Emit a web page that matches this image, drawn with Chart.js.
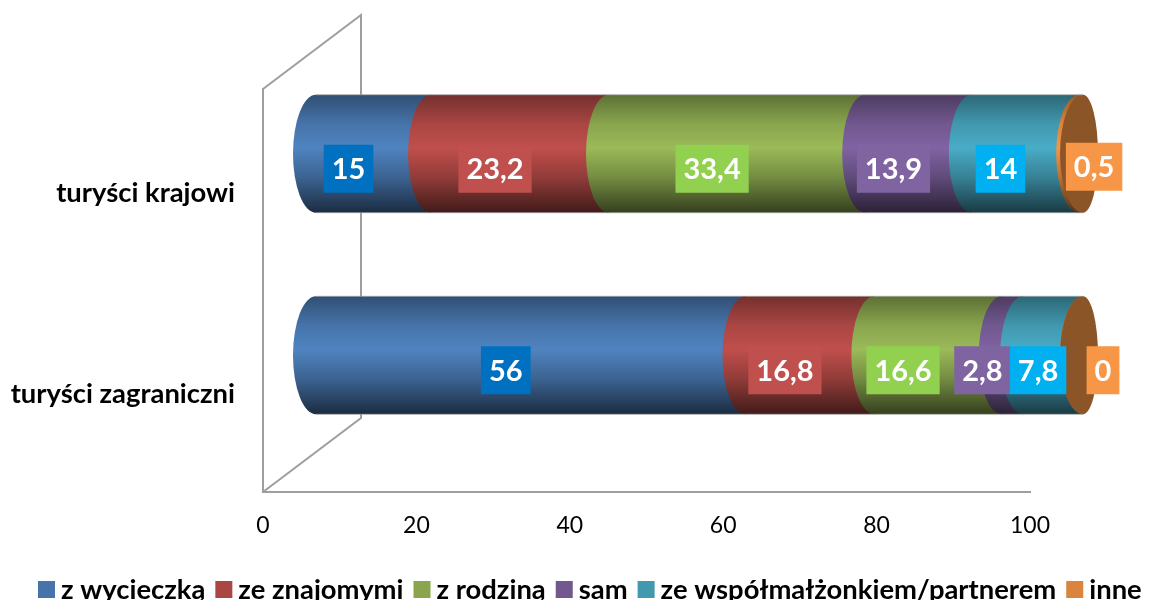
<!DOCTYPE html>
<html lang="pl">
<head>
<meta charset="utf-8">
<title>Turyści</title>
<style>
  html, body { margin: 0; padding: 0; background: #fff; overflow: hidden; }
  #wrap { width: 1151px; height: 600px; position: relative; }
</style>
<script src="https://cdn.jsdelivr.net/npm/chart.js@4/dist/chart.umd.min.js"></script>
</head>
<body>
<div id="wrap"><canvas id="chart"></canvas></div>
<script>
// Data
const categories = ['turyści krajowi', 'turyści zagraniczni'];
const seriesNames = ['z wycieczką', 'ze znajomymi', 'z rodziną', 'sam', 'ze współmałżonkiem/partnerem', 'inne'];
const zWycieczka = [15, 56];
const zeZnajomymi = [23.2, 16.8];
const zRodzina = [33.4, 16.6];
const sam = [13.9, 2.8];
const zeWspolmalzonkiem = [14, 7.8];
const inne = [0.5, 0];
const xTicks = [0, 20, 40, 60, 80, 100];

// Colours
const seriesColors = ['#4674AA', '#AA4643', '#89A54E', '#71588F', '#4198AF', '#DB843D'];
const labelColors = ['#0070C0', '#C0504D', '#92D050', '#8064A2', '#00B0F0', '#F79646'];
const capColor = '#8B5527';
const wallColor = '#9E9E9E';
const fontName = 'Lato, "Open Sans", sans-serif';

// 3D look: how far the bars sit behind the front plane
const barShift = { x: 53, y: -36 };
const wallDepth = { x: 98, y: -74 };
const arcLeft = 23;
const arcRight = 15;

// Hand-moved data labels, px from the default spot [category][series]
const labelNudge = [
  [0, 0, 0, 0, 0, [38, -2]],
  [0, 0, [-10, 0], [-5, 0], [10, 0], [45, 0]]
];

function shade(hex, k) {
  const n = parseInt(hex.slice(1), 16);
  const c = [n >> 16, (n >> 8) & 255, n & 255].map(v => Math.min(255, Math.round(v * k)));
  return `rgb(${c[0]},${c[1]},${c[2]})`;
}

function barGradient(ctx, top, bottom, color) {
  const g = ctx.createLinearGradient(0, top, 0, bottom);
  g.addColorStop(0, shade(color, 0.68));
  g.addColorStop(0.25, shade(color, 1.0));
  g.addColorStop(0.45, shade(color, 1.13));
  g.addColorStop(0.7, shade(color, 0.85));
  g.addColorStop(1, shade(color, 0.38));
  return g;
}

const cylinderPlugin = {
  id: 'cylinder',
  beforeDatasetsDraw(chart) {
    const { ctx, chartArea: area } = chart;

    // back wall
    ctx.save();
    ctx.strokeStyle = wallColor;
    ctx.lineWidth = 2;
    ctx.beginPath();
    ctx.moveTo(area.left, area.top);
    ctx.lineTo(area.left + wallDepth.x, area.top + wallDepth.y);
    ctx.lineTo(area.left + wallDepth.x, area.bottom + wallDepth.y);
    ctx.lineTo(area.left, area.bottom);
    ctx.stroke();
    ctx.restore();

    // segments, first series first so each next one overlaps it
    chart.data.datasets.forEach((ds, i) => {
      chart.getDatasetMeta(i).data.forEach(el => {
        const x0 = el.base + barShift.x;
        const x1 = el.x + barShift.x;
        const yc = el.y + barShift.y;
        const h = el.height / 2;
        ctx.fillStyle = barGradient(ctx, yc - h, yc + h, seriesColors[i]);
        ctx.beginPath();
        ctx.moveTo(x0, yc - h);
        ctx.ellipse(x0, yc, arcLeft, h, 0, -Math.PI / 2, Math.PI / 2, true);
        ctx.lineTo(x1, yc + h);
        ctx.lineTo(x1, yc - h);
        ctx.closePath();
        ctx.fill();
      });
    });

    // open end of each cylinder and thin outline
    const last = chart.getDatasetMeta(chart.data.datasets.length - 1).data;
    const first = chart.getDatasetMeta(0).data;
    last.forEach((el, j) => {
      const xe = el.x + barShift.x;
      const xs = first[j].base + barShift.x;
      const yc = el.y + barShift.y;
      const h = el.height / 2;
      ctx.fillStyle = capColor;
      ctx.beginPath();
      ctx.ellipse(xe, yc, arcLeft, h, 0, -Math.PI / 2, Math.PI / 2, true);
      ctx.ellipse(xe, yc, arcRight, h, 0, Math.PI / 2, -Math.PI / 2, true);
      ctx.closePath();
      ctx.fill();
      ctx.strokeStyle = 'rgba(170,170,170,0.7)';
      ctx.lineWidth = 1;
      ctx.beginPath();
      ctx.moveTo(xs, yc - h);
      ctx.lineTo(xe, yc - h);
      ctx.moveTo(xs, yc + h);
      ctx.lineTo(xe, yc + h);
      ctx.stroke();
    });
    return false; // bars are fully drawn here, this also skips afterDatasetsDraw
  },
  afterDraw(chart) {
    const { ctx } = chart;
    ctx.save();

    // data labels
    ctx.font = 'bold 29px ' + fontName;
    ctx.textBaseline = 'middle';
    ctx.textAlign = 'center';
    chart.data.datasets.forEach((ds, i) => {
      chart.getDatasetMeta(i).data.forEach((el, j) => {
        const text = String(ds.data[j]).replace('.', ',');
        const nudge = labelNudge[j][i] || [0, 0];
        const cx = (el.base + el.x) / 2 + 28 + nudge[0];
        const cy = el.y - 21 + nudge[1];
        const w = ctx.measureText(text).width + 16;
        ctx.fillStyle = labelColors[i];
        ctx.fillRect(cx - w / 2, cy - 24, w, 48);
        ctx.fillStyle = '#fff';
        ctx.fillText(text, cx, cy + 1);
      });
    });

    // legend row, the chart's own legend cannot run wider than the plot padding allows
    ctx.font = 'bold 27.4px ' + fontName;
    ctx.textAlign = 'left';
    let x = 38;
    chart.data.datasets.forEach((ds, i) => {
      ctx.fillStyle = seriesColors[i];
      ctx.fillRect(x, 581, 17, 17);
      ctx.fillStyle = '#000';
      ctx.fillText(ds.label, x + 23, 590);
      x += 23 + ctx.measureText(ds.label).width + 10;
    });
    ctx.restore();
  }
};

const seriesValues = [zWycieczka, zeZnajomymi, zRodzina, sam, zeWspolmalzonkiem, inne];

new Chart(document.getElementById('chart'), {
  type: 'bar',
  data: {
    labels: categories,
    datasets: seriesNames.map((name, i) => ({
      label: name,
      data: seriesValues[i],
      backgroundColor: seriesColors[i],
      barThickness: 118
    }))
  },
  options: {
    indexAxis: 'y',
    responsive: true,
    maintainAspectRatio: false,
    animation: false,
    layout: { padding: { top: 89, right: 121 } },
    plugins: { legend: { display: false }, tooltip: { enabled: false } },
    scales: {
      x: {
        stacked: true,
        min: 0,
        max: 100,
        afterBuildTicks(scale) { scale.ticks = xTicks.map(v => ({ value: v })); },
        afterFit(scale) { scale.height = 108; },
        grid: { display: false },
        border: { display: true, color: wallColor, width: 2 },
        ticks: { color: '#000', padding: 12, maxRotation: 0, font: { family: fontName, size: 23 } }
      },
      y: {
        stacked: true,
        afterFit(scale) { scale.width = 263; },
        grid: { display: false },
        border: { display: true, color: wallColor, width: 2 },
        ticks: { color: '#000', padding: 20, labelOffset: 3, font: { family: fontName, size: 27.4, weight: 'bold' } }
      }
    }
  },
  plugins: [cylinderPlugin]
});
</script>
</body>
</html>
